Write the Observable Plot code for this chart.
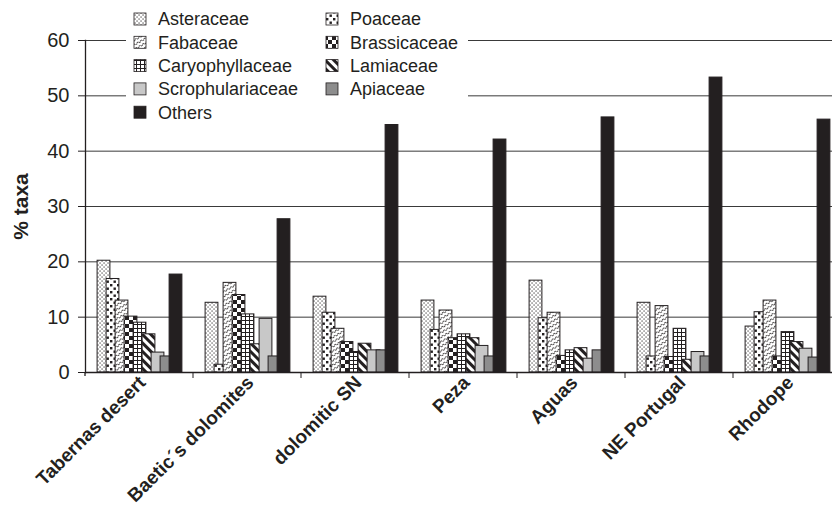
<!DOCTYPE html>
<html><head><meta charset="utf-8">
<script src="https://cdn.jsdelivr.net/npm/d3@7"></script>
<script src="https://cdn.jsdelivr.net/npm/@observablehq/plot@0.6"></script>
<style>
body{margin:0;background:#fff;font-family:"Liberation Sans",Arial,sans-serif;}
#chart{position:relative;width:832px;height:528px;overflow:hidden}
</style></head><body><div id="chart"></div>
<script>
// ---- data ----
const sites = ["Tabernas desert", "Baetic´s dolomites", "dolomitic SN", "Peza", "Aguas", "NE Portugal", "Rhodope"];
const families = ["Asteraceae", "Poaceae", "Fabaceae", "Brassicaceae", "Caryophyllaceae", "Lamiaceae", "Scrophulariaceae", "Apiaceae", "Others"];
const asteraceae       = [20.2, 12.6, 13.7, 13.0, 16.6, 12.6, 8.3];
const poaceae          = [16.9, 1.4, 10.8, 7.7, 9.8, 2.9, 10.9];
const fabaceae         = [13.0, 16.2, 7.9, 11.2, 10.8, 12.0, 13.0];
const brassicaceae     = [10.1, 14.0, 5.5, 6.2, 3.0, 2.8, 2.9];
const caryophyllaceae  = [9.0, 10.5, 3.7, 6.9, 4.0, 7.9, 7.3];
const lamiaceae        = [6.9, 5.1, 5.2, 6.2, 4.4, 2.3, 5.5];
const scrophulariaceae = [3.6, 9.7, 4.0, 4.8, 2.5, 3.7, 4.3];
const apiaceae         = [2.9, 2.9, 4.0, 2.9, 4.0, 2.9, 2.7];
const others           = [17.7, 27.7, 45.7, 42.1, 46.1, 53.3, 45.7];
const yTicks = [0, 10, 20, 30, 40, 50, 60];

// ---- build table ----
const seriesValues = [asteraceae, poaceae, fabaceae, brassicaceae, caryophyllaceae, lamiaceae, scrophulariaceae, apiaceae, others];
const rows = [];
sites.forEach((site, i) => families.forEach((family, j) => rows.push({site, family, value: seriesValues[j][i]})));

const ink = "#231f20";
const fills = ["url(#p-ast)", "url(#p-poa)", "url(#p-fab)", "url(#p-bra)", "url(#p-car)", "url(#p-lam)", "#c8c8c8", "#8d8d8d", ink];

const plot = Plot.plot({
  width: 832, height: 528,
  marginLeft: 84, marginRight: -9, marginTop: 40, marginBottom: 156,
  style: {fontFamily: "'Liberation Sans', Arial, sans-serif", fontSize: "18px", color: ink, background: "#fff"},
  fx: {domain: sites, padding: 0},
  x: {domain: families, paddingInner: 0, paddingOuter: 1.4, axis: null},
  y: {domain: [0, 60]},
  color: {domain: families, range: fills},
  marks: [
    Plot.ruleY(yTicks.slice(1), {stroke: "#3a3a3a", strokeWidth: 1}),
    Plot.rectY(rows, {fx: "site", x: "family", y: "value", fill: "family", stroke: ink, strokeWidth: 1, insetLeft: -1.9, insetRight: -1.9}),
    Plot.ruleY([0], {stroke: ink, strokeWidth: 1.3}),
    Plot.frame({anchor: "left", facetAnchor: "left", stroke: ink, strokeWidth: 1.3}),
    Plot.axisY(yTicks, {tickSize: 7, tickPadding: 9, fontSize: 20, label: null, stroke: ink}),
    Plot.axisY({ticks: [], label: "% taxa", labelAnchor: "center", labelArrow: "none", labelOffset: 72, fontWeight: "bold", fontSize: 21}),
    Plot.axisFx({anchor: "bottom", tickSize: 0, tickPadding: 7, tickRotate: -45, fontSize: 19, fontWeight: "bold", label: null, dx: 3})
  ]
});

document.getElementById("chart").appendChild(plot);

// ---- patterns ----
const svg = d3.select(plot);
const defs = svg.insert("defs", ":first-child");
function pat(id, w, h, build, transform) {
  const p = defs.append("pattern").attr("id", id).attr("patternUnits", "userSpaceOnUse").attr("width", w).attr("height", h);
  if (transform) p.attr("patternTransform", transform);
  p.append("rect").attr("width", w).attr("height", h).attr("fill", "#fff");
  build(p);
}
pat("p-ast", 4, 4, p => {
  p.append("rect").attr("x", 0.5).attr("y", 0.5).attr("width", 1.1).attr("height", 1.1).attr("fill", ink);
  p.append("rect").attr("x", 2.5).attr("y", 2.5).attr("width", 1.1).attr("height", 1.1).attr("fill", ink);
});
pat("p-poa", 7, 7, p => {
  p.append("rect").attr("x", 0.5).attr("y", 0.5).attr("width", 2.4).attr("height", 2.4).attr("fill", ink);
  p.append("rect").attr("x", 4).attr("y", 4).attr("width", 2.4).attr("height", 2.4).attr("fill", ink);
});
pat("p-fab", 4, 4, p => {
  p.append("path").attr("d", "M0,3 L2,1 L4,3").attr("fill", "none").attr("stroke", ink).attr("stroke-width", 0.8);
}, "rotate(-30)");
pat("p-bra", 8, 8, p => {
  p.append("rect").attr("x", 0).attr("y", 0).attr("width", 4).attr("height", 4).attr("fill", ink);
  p.append("rect").attr("x", 4).attr("y", 4).attr("width", 4).attr("height", 4).attr("fill", ink);
});
pat("p-car", 4, 4, p => {
  p.append("path").attr("d", "M0,0.5 H4 M0.5,0 V4").attr("fill", "none").attr("stroke", ink).attr("stroke-width", 1);
});
pat("p-lam", 6, 6, p => {
  p.append("rect").attr("x", 0).attr("y", 0).attr("width", 3).attr("height", 6).attr("fill", ink);
}, "rotate(-45)");

// ---- boundary ticks on the category axis ----
const fx = plot.scale("fx");
const yS = plot.scale("y");
const y0 = yS.apply(0);
sites.forEach(s => {
  const xr = fx.apply(s) + fx.bandwidth;
  svg.append("line").attr("x1", xr).attr("x2", xr).attr("y1", y0).attr("y2", y0 + 6).attr("stroke", ink).attr("stroke-width", 1);
});
svg.append("line").attr("x1", fx.apply(sites[0])).attr("x2", fx.apply(sites[0])).attr("y1", y0).attr("y2", y0 + 4).attr("stroke", ink).attr("stroke-width", 1.3);

// ---- legend ----
const lg = svg.append("g").attr("font-size", 18).attr("fill", ink).attr("text-anchor", "start");
lg.append("rect").attr("x", 126).attr("y", 0).attr("width", 342).attr("height", 124).attr("fill", "#fff");
families.forEach((f, k) => {
  const col = k % 2, row = Math.floor(k / 2);
  const sx = 134 + col * 192, cy = 19 + row * 23.3;
  lg.append("rect").attr("x", sx).attr("y", cy - 6).attr("width", 12).attr("height", 12)
    .attr("fill", fills[k]).attr("stroke", ink).attr("stroke-width", 0.8);
  lg.append("text").attr("x", sx + 24).attr("y", cy).attr("dy", "0.35em").attr("text-anchor", "start").text(f);
});
</script>
</body></html>
